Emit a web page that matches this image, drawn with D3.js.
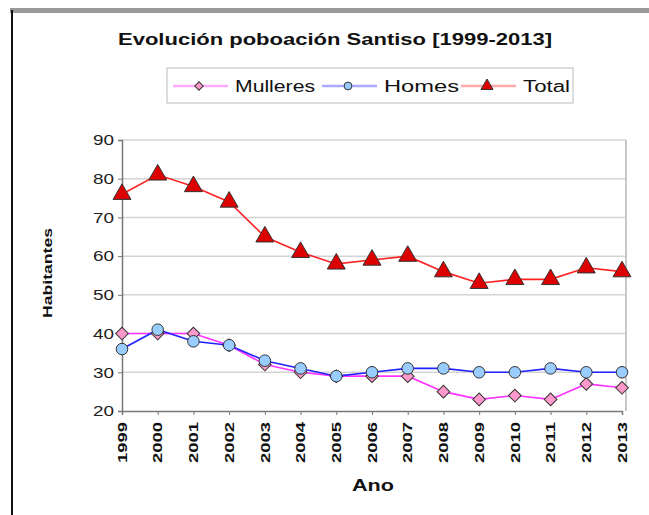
<!DOCTYPE html>
<html>
<head>
<meta charset="utf-8">
<script src="https://cdn.jsdelivr.net/npm/d3@7"></script>
<style>
body { margin: 0; background: #fff; }
svg { font-family: "Liberation Sans", Arial, sans-serif; }
</style>
</head>
<body>
<div id="chart"></div>
<script>
var years = [1999, 2000, 2001, 2002, 2003, 2004, 2005, 2006, 2007, 2008, 2009, 2010, 2011, 2012, 2013];
var mulleres = [40, 40, 40, 37, 32, 30, 29, 29, 29, 25, 23, 24, 23, 27, 26];
var homes = [36, 41, 38, 37, 33, 31, 29, 30, 31, 31, 30, 30, 31, 30, 30];
var total = [76, 81, 78, 74, 65, 61, 58, 59, 60, 56, 53, 54, 54, 57, 56];
var yTicks = [20, 30, 40, 50, 60, 70, 80, 90];

var width = 649, height = 515;
var plotL = 122, plotR = 622, plotT = 140, plotB = 411;

var svg = d3.select('#chart').append('svg')
	.attr('width', width)
	.attr('height', height);

// chart frame
svg.append('rect').attr('x', 10).attr('y', 8).attr('width', 650).attr('height', 5).attr('fill', '#9a9a9a');
svg.append('line').attr('x1', 12).attr('x2', 12).attr('y1', 10).attr('y2', height)
	.attr('stroke', '#111').attr('stroke-width', 2);

var x = d3.scalePoint().domain(years).range([plotL, plotR]);
var y = d3.scaleLinear().domain([20, 90]).range([plotB, plotT]);

// gridlines
svg.append('g').selectAll('line').data(yTicks.slice(1)).enter().append('line')
	.attr('x1', plotL).attr('x2', plotR + 4)
	.attr('y1', function(d) { return y(d); }).attr('y2', function(d) { return y(d); })
	.attr('stroke', '#d4d4d4').attr('stroke-width', 1.5);

// right border
svg.append('line').attr('x1', plotR + 4).attr('x2', plotR + 4).attr('y1', plotT).attr('y2', plotB)
	.attr('stroke', '#c8c8c8').attr('stroke-width', 2);

// axes
var yAxis = svg.append('g').attr('transform', 'translate(' + plotL + ',0)')
	.call(d3.axisLeft(y).tickValues(yTicks).tickSize(4).tickPadding(4));
yAxis.selectAll('text').attr('font-size', 15).attr('fill', '#222')
	.attr('textLength', 21).attr('lengthAdjust', 'spacingAndGlyphs');

var xAxis = svg.append('g').attr('transform', 'translate(0,' + plotB + ')')
	.call(d3.axisBottom(x).tickSize(4).tickPadding(4));
xAxis.selectAll('text')
	.attr('font-size', 12).attr('font-weight', 'bold').attr('fill', '#111')
	.attr('transform', 'rotate(-90)')
	.attr('text-anchor', 'end')
	.attr('x', -11).attr('y', 0).attr('dy', '0.35em')
	.attr('textLength', 41).attr('lengthAdjust', 'spacingAndGlyphs');

svg.selectAll('.domain').attr('stroke', '#777').attr('stroke-width', 1.5);
svg.selectAll('.tick line').attr('stroke', '#777');

// series (diamond = square turned 45deg)
var series = [
	{ name: 'Mulleres', values: mulleres, line: '#ff33ff', legendLine: '#ffaaff', fill: '#ff99cc', shape: d3.symbolSquare, rot: 45, size: 80 },
	{ name: 'Homes', values: homes, line: '#2222ff', legendLine: '#aaaaff', fill: '#99ccff', shape: d3.symbolCircle, rot: 0, size: 105 },
	{ name: 'Total', values: total, line: '#ff2222', legendLine: '#ffaaaa', fill: '#dd0000', shape: d3.symbolTriangle, rot: 0, size: 140 }
];

var line = d3.line()
	.x(function(d, i) { return x(years[i]); })
	.y(function(d) { return y(d); });

series.forEach(function(s) {
	svg.append('path').datum(s.values)
		.attr('d', line)
		.attr('fill', 'none')
		.attr('stroke', s.line)
		.attr('stroke-width', 1.6);
});

series.forEach(function(s) {
	svg.append('g').selectAll('path').data(s.values).enter().append('path')
		.attr('d', d3.symbol().type(s.shape).size(s.size))
		.attr('transform', function(d, i) { return 'translate(' + x(years[i]) + ',' + y(d) + ') rotate(' + s.rot + ')'; })
		.attr('fill', s.fill)
		.attr('stroke', '#333')
		.attr('stroke-width', 1);
});

// title
svg.append('text').attr('x', 335).attr('y', 45).attr('text-anchor', 'middle')
	.attr('font-size', 16).attr('font-weight', 'bold').attr('fill', '#111')
	.attr('textLength', 434).attr('lengthAdjust', 'spacingAndGlyphs')
	.text('Evolución poboación Santiso [1999-2013]');

// legend
svg.append('rect').attr('x', 167).attr('y', 68).attr('width', 406).attr('height', 35)
	.attr('fill', '#fff').attr('stroke', '#bbb');
var legendX = [173, 322, 461];
var legendW = [80, 75, 47];
series.forEach(function(s, i) {
	var g = svg.append('g').attr('transform', 'translate(' + legendX[i] + ',86)');
	g.append('line').attr('x1', 0).attr('x2', 55).attr('stroke', s.legendLine).attr('stroke-width', 2.5);
	g.append('path').attr('d', d3.symbol().type(s.shape).size(s.size * 0.45))
		.attr('transform', 'translate(26,0) rotate(' + s.rot + ')')
		.attr('fill', s.fill).attr('stroke', '#333');
	g.append('text').attr('x', 62).attr('y', 6).attr('font-size', 16).attr('fill', '#111')
		.attr('textLength', legendW[i]).attr('lengthAdjust', 'spacingAndGlyphs')
		.text(s.name);
});

// axis titles
svg.append('text').attr('transform', 'translate(52,273) rotate(-90)').attr('text-anchor', 'middle')
	.attr('font-size', 13).attr('font-weight', 'bold').attr('fill', '#111')
	.attr('textLength', 90).attr('lengthAdjust', 'spacingAndGlyphs')
	.text('Habitantes');
svg.append('text').attr('x', 373).attr('y', 491).attr('text-anchor', 'middle')
	.attr('font-size', 16).attr('font-weight', 'bold').attr('fill', '#111')
	.attr('textLength', 42).attr('lengthAdjust', 'spacingAndGlyphs')
	.text('Ano');
</script>
</body>
</html>
